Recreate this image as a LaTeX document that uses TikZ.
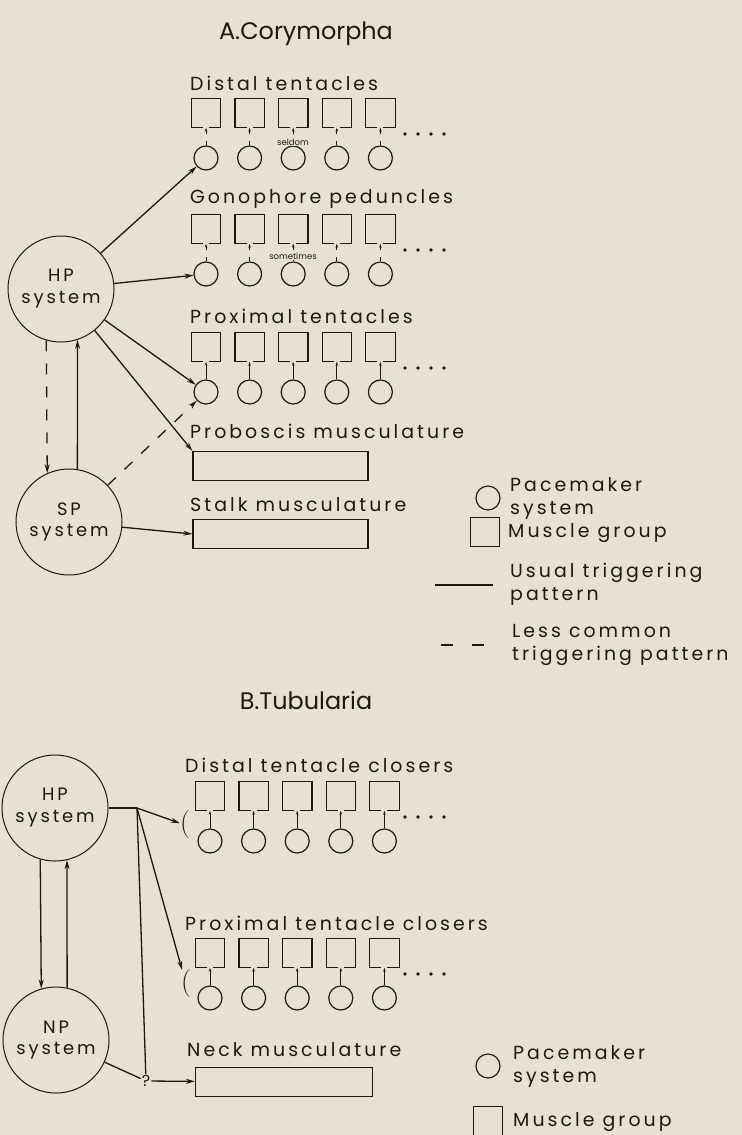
\documentclass[tikz,border=0pt]{standalone}
\usepackage{fontspec}
\setmainfont{Poppins}
\newfontfamily\lblfont{Poppins}[LetterSpace=16]
\newfontfamily\lmfont{Latin Modern Roman}
\usetikzlibrary{arrows.meta,calc}

\definecolor{paper}{RGB}{233,224,212}
\definecolor{ink}{RGB}{28,24,22}

\tikzset{
  pm/.style={circle,draw=ink,line width=1.2bp,minimum size=24bp,inner sep=0pt},
  mg/.style={minimum size=29bp,inner sep=0pt},
  sq/.style={draw=ink,line width=1.2bp},
  sys/.style={circle,draw=ink,line width=1bp,minimum size=106bp,inner sep=0pt,align=center,
    text=ink,font=\lblfont\fontsize{18}{22}\selectfont},
  lbl/.style={anchor=west,inner sep=0pt,text=ink,align=left,font=\lblfont\fontsize{19}{23}\selectfont},
  ttl/.style={inner sep=0pt,text=ink,font=\fontsize{24}{26}\selectfont},
  note/.style={inner sep=1pt,fill=paper,text=ink,font=\fontsize{8.5}{9}\selectfont},
  bar/.style={draw=ink,line width=1.2bp,minimum width=175bp,minimum height=29bp,inner sep=0pt},
  brk/.style={inner sep=0pt,text=ink,font=\lmfont\fontsize{28}{28}\selectfont},
  qm/.style={inner sep=1pt,text=ink,font=\fontsize{16}{16}\selectfont},
  line/.style={draw=ink,line width=1.3bp},
  trig/.style={line,-{Stealth[length=9bp,width=5bp]}},
  pmarr/.style={draw=ink,line width=0.8bp,-{Stealth[length=4bp,width=2.5bp]}},
  rare/.style={pmarr,dash pattern=on 4bp off 7bp},
  lesscommon/.style={dash pattern=on 11bp off 12bp},
}

\begin{document}
\begin{tikzpicture}[x=1bp,y=-1bp]
\fill[paper] (0,0) rectangle (742,1135);
\useasboundingbox (0,0) rectangle (742,1135);

% pacemaker rows and their muscle groups
\foreach \rw/\xo/\ys/\st in {ad/206/113/rare, ag/206/229/rare, ap/206/347/pmarr, bd/210/796/pmarr, bp/210/953/pmarr}{
  \foreach \i in {1,...,5}{
    \node[mg] (\rw-m\i) at ({\xo+43.6*(\i-1)},\ys) {};
    \node[pm] (\rw-c\i) at ({\xo+43.6*(\i-1)},{\ys+45}) {};
    \draw[sq] ($(\rw-m\i.south)+(-3,0)$) -| (\rw-m\i.north west) -| (\rw-m\i.south east) -- ($(\rw-m\i.south)+(3,0)$);
    \draw[\st] (\rw-c\i) -- (\rw-m\i.south);
  }
  \foreach \k in {0,...,3}
    \fill[ink] ({405+13*\k},{\ys+21}) circle (1.8bp);
}

% A. Corymorpha
\node[ttl] (ttlA) at (306,34) {A.Corymorpha};
\node[lbl] (distA) at (190,83) {Distal tentacles};
\node[lbl] (gonoA) at (190,199) {Gonophore peduncles};
\node[lbl] (proxA) at (190,316) {Proximal tentacles};
\node[lbl] (probA) at (190,431) {Proboscis musculature};
\node[lbl] (stalkA) at (190,505) {Stalk musculature};
\node[note] (seldom) at (293,142) {seldom};
\node[note] (sometimes) at (293,256) {sometimes};

\node[sys] (hpA) at (61,289) {HP\\system};
\node[sys] (spA) at (69,522) {SP\\system};
\node[bar] (prob) at (280.5,466) {};
\node[bar] (stalk) at (280.5,534) {};

\draw[trig] (hpA) -- (ad-c1);
\draw[trig] (hpA) -- (ag-c1);
\draw[trig] (hpA) -- (ap-c1);
\draw[trig] (hpA) -- (prob.north west);
\draw[trig,lesscommon] (spA) -- (ap-c1);
\draw[trig] (spA) -- (stalk.west);
\draw[trig,lesscommon] (hpA.254) -- (spA.114);
\draw[trig] (spA.81) -- (hpA.288);

% legend A
\node[pm] (keyApm) at (488,498) {};
\node[lbl] (keyApmt) at (510,498) {Pacemaker\\system};
\node[mg,draw=ink,line width=1.2bp] (keyAmg) at (485,532) {};
\node[lbl] (keyAmgt) at (508,533) {Muscle group};
\coordinate (keyAu1) at (435,585);
\coordinate (keyAu2) at (493,585);
\draw[line] (keyAu1) -- (keyAu2);
\node[lbl] (keyAut) at (510,584) {Usual triggering\\pattern};
\coordinate (keyAl1) at (441,645);
\coordinate (keyAl2) at (485,645);
\draw[line,dash pattern=on 12bp off 19bp] (keyAl1) -- (keyAl2);
\node[lbl] (keyAlt) at (512,645) {Less common\\triggering pattern};

% B. Tubularia
\node[ttl] (ttlB) at (306,700) {B.Tubularia};
\node[lbl] (distB) at (185,765) {Distal tentacle closers};
\node[lbl] (proxB) at (185,923) {Proximal tentacle closers};
\node[lbl] (neckB) at (187,1050) {Neck musculature};

\node[sys] (hpB) at (55,808) {HP\\system};
\node[sys] (npB) at (56,1040) {NP\\system};
\coordinate (jB) at (137,808);
\node[brk] (brD) at (185,825) {(};
\node[brk] (brP) at (186,984) {(};
\node[qm] (q) at (146,1081) {?};
\node[bar,minimum width=177bp] (neck) at (284,1082) {};

\draw[line] (hpB) -- (jB);
\draw[trig] (jB) -- (brD);
\draw[trig] (jB) -- (brP);
\draw[line] (jB) -- (q);
\draw[line] (npB) -- (q);
\draw[trig] (q) -- (neck);
\draw[trig] (hpB.254) -- (npB.106);
\draw[trig] (npB.78) -- (hpB.283);

% legend B
\node[pm] (keyBpm) at (488,1066) {};
\node[lbl] (keyBpmt) at (513,1066) {Pacemaker\\system};
\node[mg,draw=ink,line width=1.2bp] (keyBmg) at (488,1121) {};
\node[lbl] (keyBmgt) at (513,1122) {Muscle group};
\end{tikzpicture}
\end{document}
